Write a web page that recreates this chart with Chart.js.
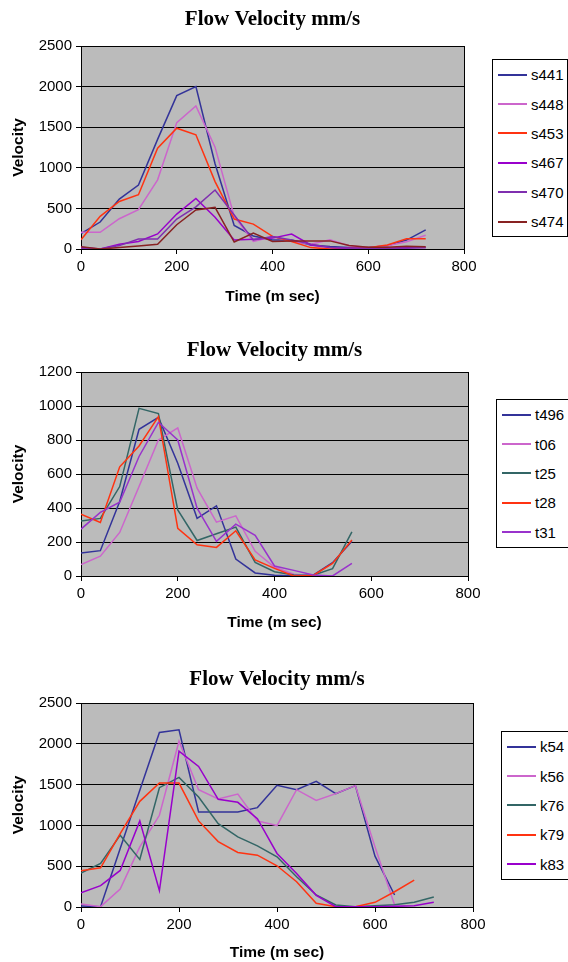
<!DOCTYPE html>
<html>
<head>
<meta charset="utf-8">
<title>Flow Velocity mm/s</title>
<script src="https://cdn.jsdelivr.net/npm/chart.js@4.4.1/dist/chart.umd.min.js"></script>
<style>
  body { margin: 0; background: #fff; font-family: 'Liberation Sans', Arial, sans-serif; }
  #page { position: relative; width: 568px; height: 962px; overflow: hidden; }
  canvas { position: absolute; left: 0; }
  .legend { position: absolute; background: #fff; border: 1px solid #000; box-sizing: border-box; }
  .legend div { height: 29.4px; display: flex; align-items: center; font-size: 15px; color: #000; white-space: nowrap; }
  .legend span { display: inline-block; width: 29px; height: 2px; margin: 0 4px 0 5px; }
</style>
</head>
<body>
<div id="page">
  <canvas id="chartS"></canvas>
  <canvas id="chartT"></canvas>
  <canvas id="chartK"></canvas>
</div>
<script>
'use strict';

// Time axis (m sec)
const times720 = [0, 40, 80, 120, 160, 200, 240, 280, 320, 360, 400, 440, 480, 520, 560, 600, 640, 680, 720];
const times560 = [0, 40, 80, 120, 160, 200, 240, 280, 320, 360, 400, 440, 480, 520, 560];
const timeTicks = [0, 200, 400, 600, 800];

// Chart 1 - s series
const sNames = ['s441', 's448', 's453', 's467', 's470', 's474'];
const s441 = [188, 332, 615, 787, 1350, 1889, 2000, 1050, 290, 160, 110, 110, 50, 30, 20, 20, 40, 110, 235];
const s448 = [205, 205, 373, 484, 852, 1557, 1762, 1254, 400, 95, 150, 95, 60, 115, 40, 20, 40, 90, 170];
const s453 = [115, 402, 586, 668, 1242, 1488, 1406, 830, 369, 307, 155, 92, 17, 0, 8, 17, 50, 126, 126];
const s467 = [21, 0, 59, 92, 185, 430, 623, 390, 111, 120, 134, 185, 50, 17, 8, 8, 8, 17, 17];
const s470 = [10, 0, 42, 122, 122, 369, 520, 726, 418, 111, 155, 110, 60, 20, 10, 8, 8, 10, 17];
const s474 = [29, 0, 17, 38, 59, 299, 480, 512, 86, 197, 92, 100, 97, 100, 42, 21, 21, 34, 29];
const sTicks = [0, 500, 1000, 1500, 2000, 2500];

// Chart 2 - t series
const tNames = ['t496', 't06', 't25', 't28', 't31'];
const t496 = [135, 149, 438, 863, 933, 663, 339, 413, 100, 18, 4, 0, 5, 78, 205];
const t06 = [67, 117, 256, 526, 800, 871, 517, 317, 354, 145, 51, 10, 0, 0];
const t25 = [323, 339, 526, 986, 955, 389, 209, 249, 288, 80, 25, 6, 5, 43, 259];
const t28 = [364, 315, 642, 765, 937, 280, 184, 168, 266, 94, 45, 0, 3, 74, 212];
const t31 = [276, 374, 434, 703, 904, 800, 399, 204, 305, 239, 59, 33, 6, 0, 74];
const tTicks = [0, 200, 400, 600, 800, 1000, 1200];

// Chart 3 - k series
const kNames = ['k54', 'k56', 'k76', 'k79', 'k83'];
const k54 = [12, 4, 717, 1430, 2138, 2171, 1165, 1165, 1165, 1218, 1491, 1438, 1540, 1389, 1487, 623, 147];
const k56 = [37, 4, 220, 737, 1124, 2032, 1438, 1324, 1385, 1055, 998, 1438, 1307, 1389, 1487, 737, 24];
const k76 = [415, 534, 880, 582, 1462, 1588, 1348, 1022, 859, 749, 615, 371, 147, 24, 4, 16, 28, 57, 122];
const k79 = [444, 481, 900, 1295, 1519, 1519, 1055, 802, 668, 635, 505, 310, 45, 4, 4, 57, 187, 330];
const k83 = [175, 261, 448, 1055, 200, 1910, 1723, 1320, 1283, 1083, 656, 411, 143, 4, 4, 4, 8, 16, 57];
const kTicks = [0, 500, 1000, 1500, 2000, 2500];

const sColors = ['#333399', '#cc66cc', '#ff3311', '#9900cc', '#7f2faf', '#882222'];
const tColors = ['#333399', '#cc66cc', '#336666', '#ff3311', '#9933cc'];
const kColors = ['#333399', '#cc66cc', '#336666', '#ff3311', '#9900cc'];

const sansFont = "'Liberation Sans', Arial, sans-serif";
const serifFont = "'Liberation Serif', 'Times New Roman', serif";

// grey plot area + black frame, like the old Excel charts
const plotFrame = {
  id: 'plotFrame',
  beforeDraw(chart) {
    const a = chart.chartArea;
    const ctx = chart.ctx;
    ctx.save();
    ctx.fillStyle = '#bbbbbb';
    ctx.fillRect(a.left, a.top, a.right - a.left, a.bottom - a.top);
    ctx.restore();
  },
  beforeDatasetsDraw(chart) {
    const a = chart.chartArea;
    const ctx = chart.ctx;
    ctx.save();
    ctx.strokeStyle = '#000';
    ctx.lineWidth = 1;
    ctx.strokeRect(Math.round(a.left) + 0.5, Math.round(a.top) + 0.5,
      Math.round(a.right - a.left), Math.round(a.bottom - a.top));
    ctx.restore();
  }
};

function buildLegend(chart, box) {
  const div = document.createElement('div');
  div.className = 'legend';
  div.style.left = box.legLeft + 'px';
  div.style.top = box.legTop + 'px';
  div.style.width = box.legWidth + 'px';
  div.style.height = box.legHeight + 'px';
  chart.data.datasets.forEach(ds => {
    const row = document.createElement('div');
    const line = document.createElement('span');
    line.style.background = ds.borderColor;
    row.appendChild(line);
    row.appendChild(document.createTextNode(ds.label));
    div.appendChild(row);
  });
  document.getElementById('page').appendChild(div);
}

function makeChart(id, box, names, series, colors, times, yTicks) {
  const canvas = document.getElementById(id);
  canvas.style.top = box.top + 'px';
  canvas.width = 568;
  canvas.height = box.height;
  const bottom = box.top + box.height;
  const titleLine = 21 * 1.2;
  const axisLine = 15.5 * 1.2;
  const titlePadTop = box.titleY - box.top - titleLine / 2;
  const titlePadBottom = box.plotTop - box.top - titlePadTop - titleLine;

  const datasets = names.map((n, i) => ({
    label: n,
    data: series[i].map((v, j) => ({ x: times[j], y: v })),
    borderColor: colors[i],
    backgroundColor: colors[i],
    borderWidth: 1.5,
    pointRadius: 0,
    tension: 0,
    order: names.length - i
  }));

  const chart = new Chart(canvas, {
    type: 'line',
    data: { datasets: datasets },
    options: {
      responsive: false,
      animation: false,
      devicePixelRatio: 1,
      layout: { padding: { left: 0, right: 568 - box.plotRight, top: 0, bottom: 0 } },
      plugins: {
        legend: { display: false },
        tooltip: { enabled: false },
        title: {
          display: true,
          text: 'Flow Velocity mm/s',
          fullSize: false,
          color: '#000',
          font: { family: serifFont, size: 21, weight: 'bold', lineHeight: 1.2 },
          padding: { top: titlePadTop, bottom: titlePadBottom }
        }
      },
      scales: {
        x: {
          type: 'linear',
          min: timeTicks[0],
          max: timeTicks[timeTicks.length - 1],
          afterFit: scale => { scale.height = bottom - box.plotBottom; },
          ticks: { stepSize: timeTicks[1] - timeTicks[0], padding: 4, color: '#000',
            format: { useGrouping: false },
            font: { family: sansFont, size: 15 } },
          grid: { drawOnChartArea: false, color: '#000', tickLength: 5 },
          border: { color: '#000' },
          title: {
            display: true, text: 'Time (m sec)', color: '#000',
            font: { family: sansFont, size: 15.5, weight: 'bold', lineHeight: 1.2 },
            padding: { top: 0, bottom: bottom - box.xTitleY - axisLine / 2 - 1 }
          }
        },
        y: {
          min: yTicks[0],
          max: yTicks[yTicks.length - 1],
          afterFit: scale => { scale.width = 81; },
          ticks: { stepSize: yTicks[1] - yTicks[0], padding: 4, color: '#000',
            format: { useGrouping: false },
            font: { family: sansFont, size: 15 } },
          grid: { color: '#000', lineWidth: 1, tickLength: 5 },
          border: { color: '#000' },
          title: {
            display: true, text: 'Velocity', color: '#000',
            font: { family: sansFont, size: 15.5, weight: 'bold', lineHeight: 1.2 },
            padding: { top: 9, bottom: 0 }
          }
        }
      }
    },
    plugins: [plotFrame]
  });
  buildLegend(chart, box);
  return chart;
}

makeChart('chartS',
  { top: 0, height: 312, titleY: 20, plotTop: 46, plotBottom: 249, plotRight: 464, xTitleY: 296,
    legLeft: 492, legTop: 59, legWidth: 76, legHeight: 178 },
  sNames, [s441, s448, s453, s467, s470, s474], sColors, times720, sTicks);

makeChart('chartT',
  { top: 331, height: 310, titleY: 351, plotTop: 372, plotBottom: 576, plotRight: 468, xTitleY: 622,
    legLeft: 496, legTop: 399, legWidth: 80, legHeight: 149 },
  tNames, [t496, t06, t25, t28, t31], tColors, times560, tTicks);

makeChart('chartK',
  { top: 660, height: 302, titleY: 680, plotTop: 703, plotBottom: 907, plotRight: 473, xTitleY: 952,
    legLeft: 501, legTop: 731, legWidth: 80, legHeight: 149 },
  kNames, [k54, k56, k76, k79, k83], kColors, times720, kTicks);
</script>
</body>
</html>
